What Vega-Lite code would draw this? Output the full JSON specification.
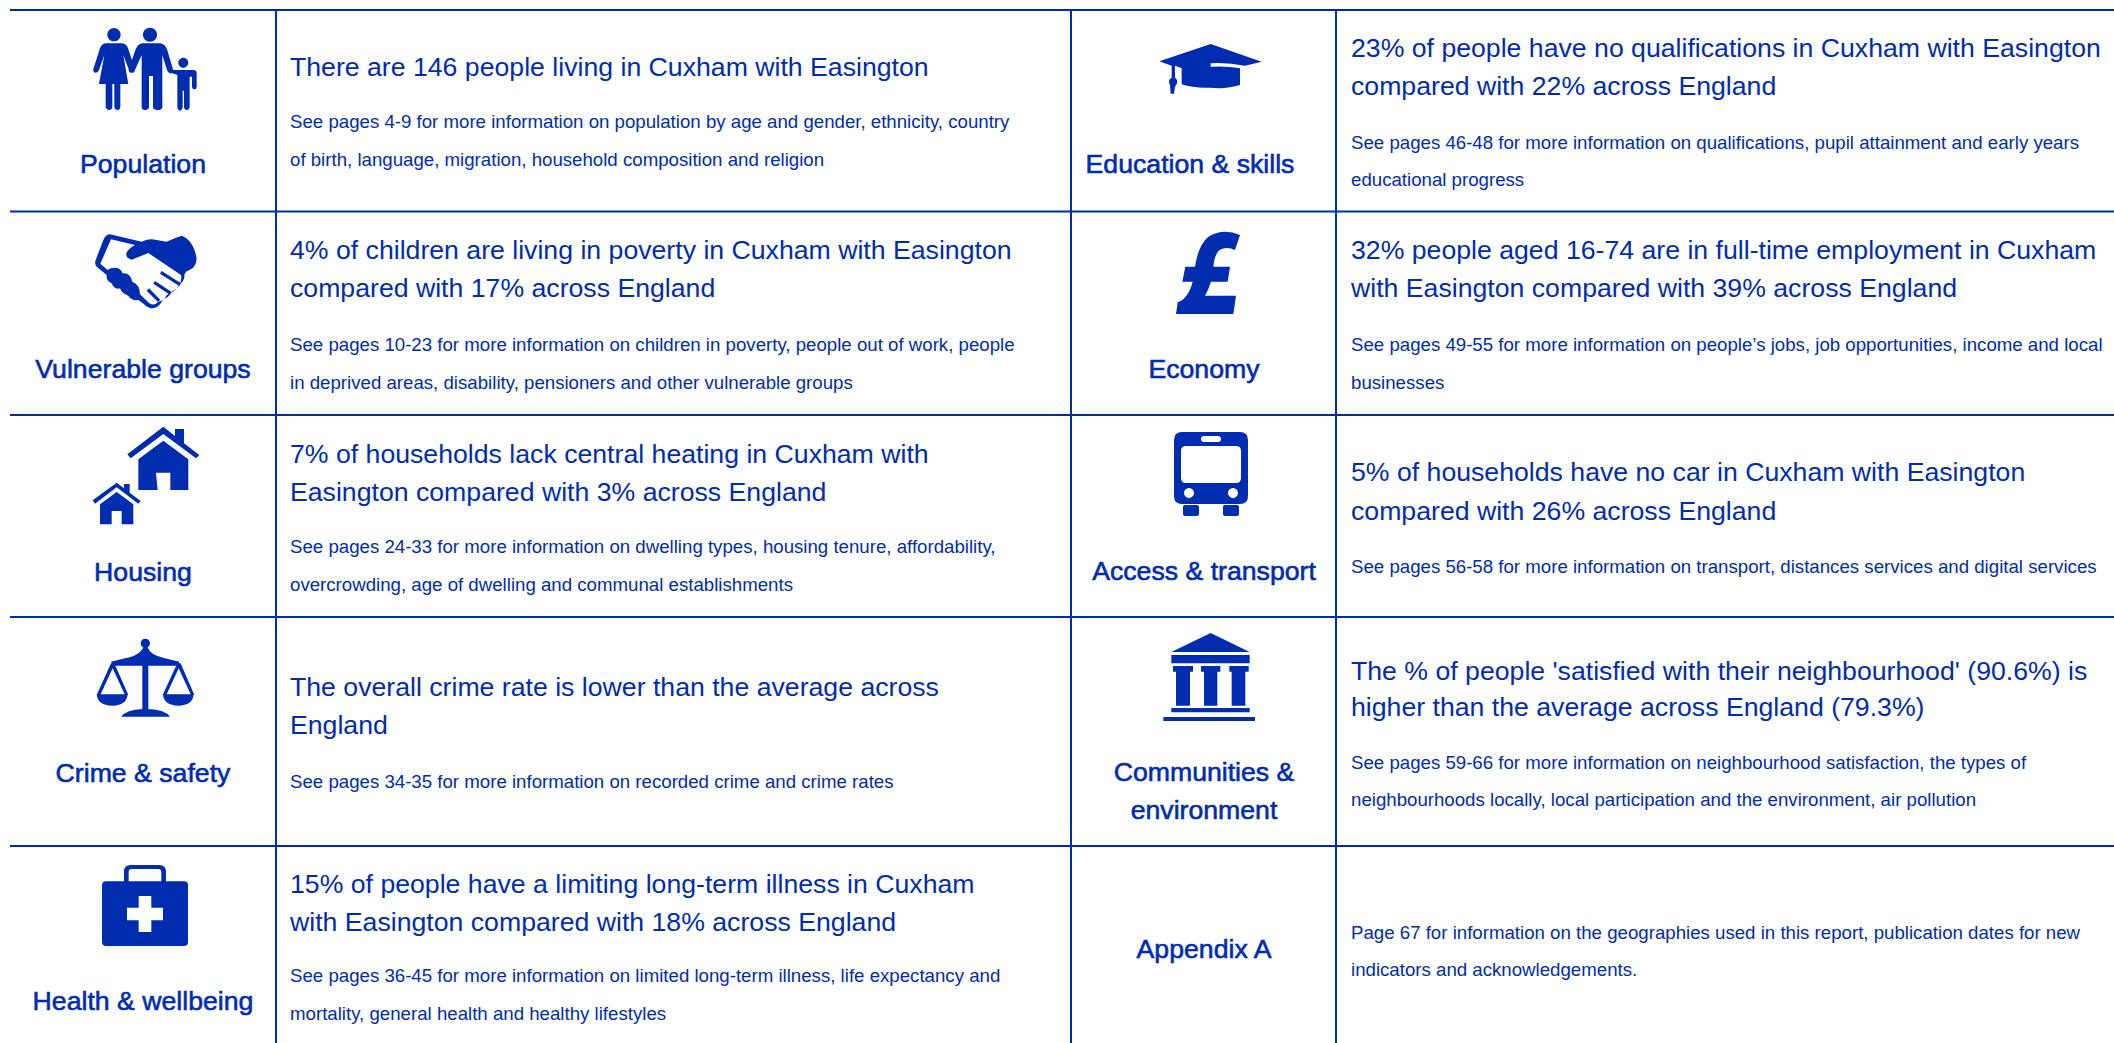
{"$schema":"https://vega.github.io/schema/vega-lite/v6.json","width":2114,"height":1043,"autosize":{"type":"none"},"padding":0,"background":"white","config":{"view":{"stroke":null}},
"datasets":{
"lines":[{"x":10,"x2":2114,"y":10,"y2":10},{"x":10,"x2":2114,"y":211.5,"y2":211.5},{"x":10,"x2":2114,"y":415,"y2":415},{"x":10,"x2":2114,"y":617,"y2":617},{"x":10,"x2":2114,"y":846,"y2":846},{"x":276,"x2":276,"y":10,"y2":1043},{"x":1071,"x2":1071,"y":10,"y2":1043},{"x":1336,"x2":1336,"y":10,"y2":1043}],
"texts":[
{"kind":"category","x":143,"y":163,"text":"Population"},
{"kind":"category","x":143,"y":368,"text":"Vulnerable groups"},
{"kind":"category","x":143,"y":571,"text":"Housing"},
{"kind":"category","x":143,"y":772,"text":"Crime & safety"},
{"kind":"category","x":143,"y":1000,"text":"Health & wellbeing"},
{"kind":"category","x":1190,"y":163,"text":"Education & skills"},
{"kind":"category","x":1204,"y":368,"text":"Economy"},
{"kind":"category","x":1204,"y":570,"text":"Access & transport"},
{"kind":"category","x":1204,"y":771,"text":"Communities &"},
{"kind":"category","x":1204,"y":809,"text":"environment"},
{"kind":"category","x":1204,"y":948,"text":"Appendix A"},
{"kind":"headline","x":290,"y":66,"text":"There are 146 people living in Cuxham with Easington"},
{"kind":"headline","x":290,"y":249,"text":"4% of children are living in poverty in Cuxham with Easington"},
{"kind":"headline","x":290,"y":287,"text":"compared with 17% across England"},
{"kind":"headline","x":290,"y":453,"text":"7% of households lack central heating in Cuxham with"},
{"kind":"headline","x":290,"y":491,"text":"Easington compared with 3% across England"},
{"kind":"headline","x":290,"y":686,"text":"The overall crime rate is lower than the average across"},
{"kind":"headline","x":290,"y":724,"text":"England"},
{"kind":"headline","x":290,"y":883,"text":"15% of people have a limiting long-term illness in Cuxham"},
{"kind":"headline","x":290,"y":921,"text":"with Easington compared with 18% across England"},
{"kind":"headline","x":1351,"y":47,"text":"23% of people have no qualifications in Cuxham with Easington"},
{"kind":"headline","x":1351,"y":85,"text":"compared with 22% across England"},
{"kind":"headline","x":1351,"y":249,"text":"32% people aged 16-74 are in full-time employment in Cuxham"},
{"kind":"headline","x":1351,"y":287,"text":"with Easington compared with 39% across England"},
{"kind":"headline","x":1351,"y":470.5,"text":"5% of households have no car in Cuxham with Easington"},
{"kind":"headline","x":1351,"y":509.5,"text":"compared with 26% across England"},
{"kind":"headline","x":1351,"y":670,"text":"The % of people 'satisfied with their neighbourhood' (90.6%) is"},
{"kind":"headline","x":1351,"y":706,"text":"higher than the average across England (79.3%)"},
{"kind":"detail","x":290,"y":121,"text":"See pages 4-9 for more information on population by age and gender, ethnicity, country"},
{"kind":"detail","x":290,"y":159,"text":"of birth, language, migration, household composition and religion"},
{"kind":"detail","x":290,"y":344,"text":"See pages 10-23 for more information on children in poverty, people out of work, people"},
{"kind":"detail","x":290,"y":381.5,"text":"in deprived areas, disability, pensioners and other vulnerable groups"},
{"kind":"detail","x":290,"y":546,"text":"See pages 24-33 for more information on dwelling types, housing tenure, affordability,"},
{"kind":"detail","x":290,"y":584,"text":"overcrowding, age of dwelling and communal establishments"},
{"kind":"detail","x":290,"y":780.5,"text":"See pages 34-35 for more information on recorded crime and crime rates"},
{"kind":"detail","x":290,"y":975,"text":"See pages 36-45 for more information on limited long-term illness, life expectancy and"},
{"kind":"detail","x":290,"y":1013,"text":"mortality, general health and healthy lifestyles"},
{"kind":"detail","x":1351,"y":141.5,"text":"See pages 46-48 for more information on qualifications, pupil attainment and early years"},
{"kind":"detail","x":1351,"y":179,"text":"educational progress"},
{"kind":"detail","x":1351,"y":344,"text":"See pages 49-55 for more information on people’s jobs, job opportunities, income and local"},
{"kind":"detail","x":1351,"y":381.5,"text":"businesses"},
{"kind":"detail","x":1351,"y":566,"text":"See pages 56-58 for more information on transport, distances services and digital services"},
{"kind":"detail","x":1351,"y":761.5,"text":"See pages 59-66 for more information on neighbourhood satisfaction, the types of"},
{"kind":"detail","x":1351,"y":799,"text":"neighbourhoods locally, local participation and the environment, air pollution"},
{"kind":"detail","x":1351,"y":931.5,"text":"Page 67 for information on the geographies used in this report, publication dates for new"},
{"kind":"detail","x":1351,"y":969,"text":"indicators and acknowledgements."}
],
"icons":[
{"icon":"population","x":85,"y":20},{"icon":"handshake","x":85,"y":225},{"icon":"houses","x":85,"y":425},{"icon":"scales","x":85,"y":635},{"icon":"kit","x":85,"y":860},{"icon":"cap","x":1150,"y":35},{"icon":"pound","x":1150,"y":225},{"icon":"bus","x":1160,"y":425},{"icon":"building","x":1160,"y":625}
]},
"encoding":{"x":{"field":"x","type":"quantitative","scale":{"domain":[0,2114],"nice":false,"zero":false},"axis":null},"y":{"field":"y","type":"quantitative","scale":{"domain":[0,1043],"reverse":true,"nice":false,"zero":false},"axis":null}},
"layer":[
{"data":{"name":"lines"},"mark":{"type":"rule","color":"#002daf","strokeWidth":2},"encoding":{"x2":{"field":"x2"},"y2":{"field":"y2"}}},
{"data":{"name":"icons"},"mark":{"type":"point","filled":true,"color":"#002daf","opacity":1,"strokeWidth":0,"size":0.4444},"encoding":{"shape":{"field":"icon","type":"nominal","legend":null,"scale":{"domain":["population","handshake","houses","scales","kit","cap","pound","bus","building"],"range":[
"M67,44 C67,33 76,24 87,24 C98,24 107,33 107,44 C107,55 98,64 87,64 C76,64 67,55 67,44 Z M174,44 C174,32 183,23 195,23 C207,23 216,32 216,44 C216,56 207,65 195,65 C183,65 174,56 174,44 Z M280,128 C280,120 287,113 295,113 C303,113 310,120 310,128 C310,136 303,143 295,143 C287,143 280,136 280,128 Z M62,70 H112 Q124,72 129,85 L150,148 Q150,160 140,158 Q134,156 130,145 L115,105 L130,192 H106 V262 Q104,272 97,270 Q90,270 88,262 V192 H82 V262 Q80,272 72,270 Q64,270 62,262 V192 H42 L58,105 L42,150 Q38,160 30,158 Q22,154 26,144 L45,85 Q50,72 62,70 Z M172,70 H226 Q240,72 246,88 L264,148 Q268,162 255,160 Q248,158 246,150 L232,105 V262 Q230,272 217,270 Q206,270 204,262 V168 H192 V262 Q190,272 180,270 Q170,270 170,262 V105 L150,150 Q146,160 136,158 Q128,154 132,145 L152,88 Q158,72 172,70 Z M262,150 H325 Q335,150 335,160 V200 Q335,208 328,208 Q322,208 321,200 V170 L314,170 V262 Q312,272 304,270 Q298,270 297,262 V212 H293 V262 Q291,272 285,272 Q278,272 277,262 V165 L262,160 Z",
"M75,28 L170,50 Q190,38 215,45 L245,50 Q270,38 290,32 Q325,45 335,100 Q335,130 303,140 L298,150 Q300,165 285,178 Q280,190 260,200 Q255,215 235,222 Q225,245 205,250 Q190,250 180,240 Q170,232 160,225 Q140,228 130,212 Q110,205 105,190 Q88,195 80,175 Q62,165 65,150 L35,125 Q28,118 32,105 L55,45 Q62,28 75,28 Z M78,43 L46,116 L68,135 Q75,128 92,128 Q108,130 113,145 Q135,142 142,170 Q165,180 165,208 L192,234 Q208,244 218,232 Q240,225 245,210 Q270,200 278,185 Q292,170 288,150 L190,84 L140,104 Q122,100 124,85 Q128,72 150,60 Z M192,190 L226,224 L219,231 L185,197 Z M210,168 L260,201 L255,209 L205,176 Z M230,138 L288,175 L283,183 L225,146 Z",
"M235,5 L270,33 V12 H297 V55 L343,90 L333,100 L235,27 L137,100 L127,88 Z M235,47 L310,103 V195 H256 V143 H213 L218,195 H160 V103 Z M95,173 L117,190 V177 H134 V203 L167,228 L160,236 L95,187 L30,236 L23,226 Z M95,201 L145,238 V298 H110 V258 H80 V298 H45 V238 Z",
"M167,25 C167,17 173,11 181,11 C189,11 195,17 195,25 C195,33 189,39 181,39 C173,39 167,33 167,25 Z M175,35 H187 Q195,60 240,70 L283,80 L278,92 H190 V222 Q240,224 255,245 H108 Q125,224 172,222 V92 H85 L78,80 L120,70 Q168,60 175,35 Z M35,178 H128 Q125,212 82,212 Q38,212 35,178 Z M78,85 L88,85 L130,180 H120 L83,100 L46,180 H35 Z M234,178 H326 Q323,212 280,212 Q237,212 234,178 Z M277,85 L287,85 L328,180 H318 L281,100 L244,180 H233 Z",
"M63,64 H117 V35 Q117,15 137,15 H223 Q243,15 243,35 V64 H297 Q309,64 309,76 V246 Q309,258 297,258 H63 Q51,258 51,246 V76 Q51,64 63,64 Z M131,64 H229 V37 Q229,27 219,27 H141 Q131,27 131,37 Z M161,108 V143 H126 V181 H161 V216 H199 V181 H234 V143 H199 V108 Z",
"M182,27 L335,80 L285,92 Q230,82 182,85 L182,95 Q230,92 270,100 V150 Q230,163 180,158 Q130,160 95,148 V100 L75,92 L75,128 Q85,135 80,148 L75,155 L72,176 H62 L60,150 Q52,135 65,128 V92 L28,79 Z",
"M270,30 L255,75 Q235,65 215,72 Q195,78 190,125 H240 L233,170 H183 Q175,195 165,212 H258 L250,267 H78 L83,232 Q115,220 128,170 H97 L106,125 H135 Q145,60 175,35 Q220,8 270,30 Z",
"M66,21 H240 Q264,21 264,45 V213 Q264,237 240,237 H66 Q42,237 42,213 V45 Q42,21 66,21 Z M78,63 Q63,63 63,78 V159 Q63,174 78,174 H228 Q243,174 243,159 V78 Q243,63 228,63 Z M132,33 Q123,33 123,42 Q123,51 132,51 H174 Q183,51 183,42 Q183,33 174,33 Z M72,204 C72,212 79,219 87,219 C95,219 102,212 102,204 C102,196 95,189 87,189 C79,189 72,196 72,204 Z M204,204 C204,212 211,219 219,219 C227,219 234,212 234,204 C234,196 227,189 219,189 C211,189 204,196 204,204 Z M75,240 H111 Q117,240 117,246 V267 Q117,273 111,273 H75 Q69,273 69,267 V246 Q69,240 75,240 Z M195,240 H231 Q237,240 237,246 V267 Q237,273 231,273 H195 Q189,273 189,267 V246 Q189,240 195,240 Z",
"M152,24 L269,81 H34 Z M34,90 H269 V115 H34 Z M39,123 H99 V140 H90 V242 H48 V140 H39 Z M123,123 H181 V140 H172 V242 H132 V140 H123 Z M208,123 H266 V140 H256 V242 H215 V140 H208 Z M34,249 H269 V262 H34 Z M10,276 H285 V288 H10 Z"
]}}}},
{"data":{"name":"texts"},"transform":[{"filter":"datum.kind==='category'"}],"mark":{"type":"text","font":"Liberation Sans","fontSize":26.67,"align":"center","baseline":"middle","dy":2,"color":"#002daf","stroke":"#002daf","strokeWidth":0.6},"encoding":{"text":{"field":"text"}}},
{"data":{"name":"texts"},"transform":[{"filter":"datum.kind==='headline'"}],"mark":{"type":"text","font":"Liberation Sans","fontSize":26.67,"align":"left","baseline":"middle","dy":2,"color":"#002daf"},"encoding":{"text":{"field":"text"}}},
{"data":{"name":"texts"},"transform":[{"filter":"datum.kind==='detail'"}],"mark":{"type":"text","font":"Liberation Sans","fontSize":18.67,"align":"left","baseline":"middle","dy":1,"color":"#002daf"},"encoding":{"text":{"field":"text"}}}
]}
